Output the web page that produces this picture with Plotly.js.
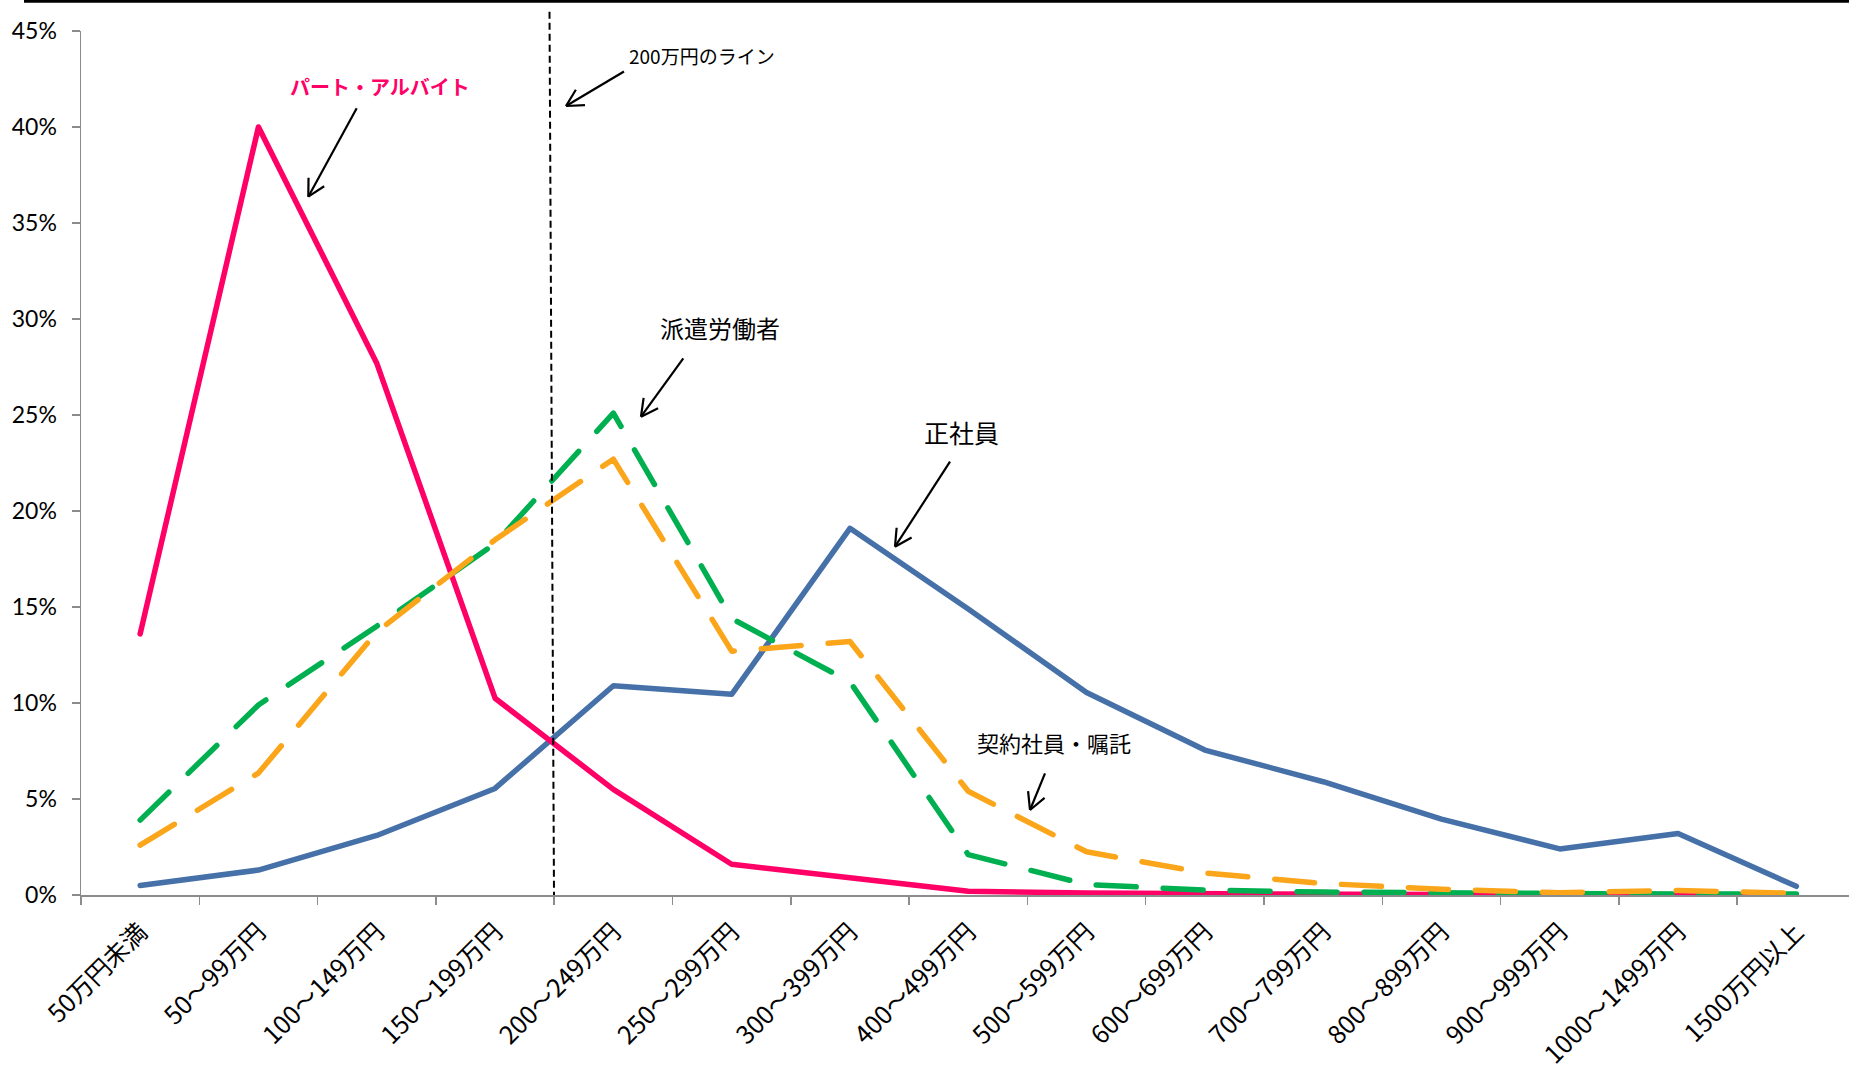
<!DOCTYPE html>
<html>
<head>
<meta charset="utf-8">
<script src="https://cdn.plot.ly/plotly-3.0.1.min.js"></script>
<style>
  html, body { margin: 0; padding: 0; background: #ffffff; overflow: hidden; }
  #chart { width: 1849px; height: 1070px; }
  /* rounded dash ends on the series lines */
  .scatterlayer path.js-line { stroke-linecap: round !important; stroke-linejoin: round !important; }
</style>
</head>
<body>
<div id="chart"></div>
<script>
// 年収階級
const categories = [
  '50万円未満', '50～99万円', '100～149万円', '150～199万円', '200～249万円',
  '250～299万円', '300～399万円', '400～499万円', '500～599万円', '600～699万円',
  '700～799万円', '800～899万円', '900～999万円', '1000～1499万円', '1500万円以上'
];

// 就業形態別の年収分布（%）
const seishain = [0.5, 1.3, 3.1, 5.55, 10.9, 10.45, 19.1, 14.9, 10.55, 7.55, 5.9, 3.95, 2.4, 3.2, 0.45];
const partArbeit = [13.6, 40.0, 27.7, 10.25, 5.5, 1.6, 0.9, 0.2, 0.1, 0.05, 0.03, 0.02, 0.02, 0.02, 0.01];
const haken = [3.9, 9.9, 14.0, 18.3, 25.1, 14.4, 11.1, 2.1, 0.55, 0.25, 0.15, 0.1, 0.08, 0.05, 0.05];
const keiyaku = [2.6, 6.35, 13.7, 18.5, 22.7, 12.7, 13.2, 5.4, 2.25, 1.15, 0.6, 0.3, 0.12, 0.23, 0.09];

const yTicks = [0, 5, 10, 15, 20, 25, 30, 35, 40, 45];

// page geometry
const W = 1849, H = 1070;
const M = { l: 81, r: 0, t: 31, b: 175 };
const PW = W - M.l - M.r, PH = H - M.t - M.b;
const CAT_PX = 118.3;                       // width of one category band
const xMax = -0.5 + PW / CAT_PX;

// pixel -> paper helpers for the hand-drawn callouts
const px = x => (x - M.l) / PW;
const py = y => (H - M.b - y) / PH;

const FONT = '"Noto Sans CJK JP", "Noto Sans", sans-serif';

const traces = [
  { name: '正社員', y: seishain, color: '#4670A8', dash: 'solid' },
  { name: 'パート・アルバイト', y: partArbeit, color: '#FF0066', dash: 'solid' },
  { name: '派遣労働者', y: haken, color: '#00B050', dash: '40px,27px' },
  { name: '契約社員・嘱託', y: keiyaku, color: '#FBA51A', dash: '40px,27px' }
].map(s => ({
  type: 'scatter',
  mode: 'lines',
  name: s.name,
  x: categories,
  y: s.y,
  line: { color: s.color, width: 5.5, dash: s.dash },
  hoverinfo: 'x+y+name'
}));

// arrow: straight shaft with an open V head
function arrow(tx, ty, hx, hy) {
  const out = [];
  const line = (x0, y0, x1, y1) => ({
    type: 'line', xref: 'paper', yref: 'paper',
    x0: px(x0), y0: py(y0), x1: px(x1), y1: py(y1),
    line: { color: '#000000', width: 2.2 }
  });
  out.push(line(tx, ty, hx, hy));
  const ang = Math.atan2(ty - hy, tx - hx);
  const len = 19, spread = 28 * Math.PI / 180;
  [ang - spread, ang + spread].forEach(a => {
    out.push(line(hx, hy, hx + len * Math.cos(a), hy + len * Math.sin(a)));
  });
  return out;
}

const shapes = [
  // rule across the top
  { type: 'line', xref: 'paper', yref: 'paper', x0: px(24), x1: px(1849), y0: py(1.2), y1: py(1.2),
    line: { color: '#000000', width: 3 } },
  // 200万円 boundary
  { type: 'line', xref: 'paper', yref: 'paper', x0: px(549.5), y0: py(11.7), x1: px(554), y1: py(895),
    line: { color: '#000000', width: 2, dash: '7px,4px' } },
  ...arrow(356.7, 108.3, 308.3, 196.7),
  ...arrow(624, 71.5, 566, 106),
  ...arrow(683.3, 358.3, 641, 416.7),
  ...arrow(950, 461.7, 895, 546.7),
  ...arrow(1045, 773.3, 1030, 810)
];

const label = (text, x, y, size, color, bold) => ({
  xref: 'paper', yref: 'paper', x: px(x), y: py(y),
  xanchor: 'center', yanchor: 'middle', showarrow: false,
  text: bold ? '<b>' + text + '</b>' : text,
  font: { family: FONT, size: size, color: color }
});

const annotations = [
  label('パート・アルバイト', 380, 87, 20, '#FF0066', true),
  label('200万円のライン', 702, 55, 19, '#000000', false),
  label('派遣労働者', 720, 327, 24, '#000000', false),
  label('正社員', 961, 432, 25, '#000000', false),
  label('契約社員・嘱託', 1054, 742, 22, '#000000', false)
];

const layout = {
  width: W, height: H,
  margin: M,
  paper_bgcolor: '#ffffff', plot_bgcolor: '#ffffff',
  showlegend: false,
  font: { family: FONT, color: '#000000' },
  xaxis: {
    type: 'category',
    range: [-0.5, xMax],
    tickson: 'boundaries',
    ticks: 'outside', ticklen: 8, tickwidth: 1.5, tickcolor: '#8C8C8C',
    showline: true, linecolor: '#8C8C8C', linewidth: 1.5,
    showgrid: false, zeroline: false,
    tickangle: -45,
    ticklabelstandoff: 11,
    tickfont: { family: FONT, size: 25, color: '#000000' }
  },
  yaxis: {
    range: [0, 45],
    tickvals: yTicks,
    ticktext: yTicks.map(v => v + '%'),
    ticks: 'outside', ticklen: 8, tickwidth: 1.5, tickcolor: '#8C8C8C',
    showline: true, linecolor: '#8C8C8C', linewidth: 1.5,
    showgrid: false, zeroline: false,
    ticklabelstandoff: 10,
    tickfont: { family: 'Lato, "Liberation Sans", sans-serif', size: 23, color: '#000000' }
  },
  shapes: shapes,
  annotations: annotations
};

Plotly.newPlot('chart', traces, layout, { displayModeBar: false, staticPlot: true });
</script>
</body>
</html>
